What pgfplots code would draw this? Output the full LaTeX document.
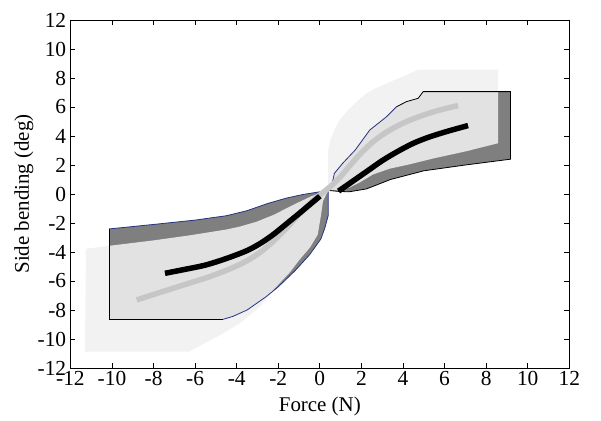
\documentclass[border=0pt]{standalone}
\usepackage{fontspec}
\setmainfont{Liberation Serif}
\usepackage{pgfplots}
\pgfplotsset{compat=1.18}
\definecolor{lightA}{RGB}{240,240,240}
\definecolor{darkB}{RGB}{127,127,127}
\definecolor{curveGrey}{RGB}{198,198,198}
\definecolor{navy}{RGB}{40,50,130}
\begin{document}
\begin{tikzpicture}
\useasboundingbox (-70.4bp,-53bp) rectangle (530.6bp,368bp);
\begin{axis}[
 scale only axis, width=498.9bp, height=348bp,
 xmin=-12,xmax=12,ymin=-12,ymax=12,
 xtick={-12,-10,...,12}, ytick={-12,-10,...,12},
 axis line style={line width=0.8bp},
 major tick length=5bp,
 tick style={line width=0.8bp, black},
 tick label style={font=\fontsize{21.5}{21.5}\selectfont},
 xticklabel style={inner sep=3bp},
 yticklabel style={inner sep=4bp},
 label style={font=\fontsize{21}{24}\selectfont},
 xlabel style={inner sep=2bp, yshift=-6bp},
 ylabel style={inner sep=2bp, yshift=-2bp},
 /pgf/number format/assume math mode=true,
 xlabel={Force (N)}, ylabel={Side bending (deg)},
 axis on top,
 no markers,
]
% dark region B (upper lobe)
\addplot[fill=darkB, draw=none] coordinates {(0.4,0.25) (0.56,0.5) (0.7,1.43) (1.1,2.12) (1.7,3.03) (2.4,4.41) (3.21,5.33) (3.69,6.02) (4.17,6.37) (4.73,6.6) (4.97,7.06) (9.17,7.06) (9.17,2.4) (7.0,2.0) (5.0,1.6) (3.4,1.0) (2.24,0.35) (1.4,0.15) (0.9,0.18)} -- cycle;
% dark region B (lower lobe)
\addplot[fill=darkB, draw=none] coordinates {(0.4,0.25) (0,0.15) (-0.8,-0.03) (-1.6,-0.28) (-2.5,-0.65) (-3.5,-1.15) (-4.5,-1.5) (-6,-1.8) (-8,-2.1) (-10.14,-2.41) (-10.14,-8.64) (-4.65,-8.64) (-4.2,-8.45) (-3.5,-8.0) (-2.6,-7.1) (-2.0,-6.4) (-1.2,-5.3) (-0.5,-4.2) (0.05,-3.1) (0.25,-2.3) (0.4,-1.5)} -- cycle;
% light region A (upper lobe)
\addplot[fill=lightA, fill opacity=0.883, draw=none] coordinates {(0.4,0.25) (0.4,3.0) (0.5,3.7) (0.72,4.5) (1.0,5.2) (1.36,5.79) (1.8,6.4) (2.24,6.94) (2.7,7.3) (3.21,7.63) (4.0,8.1) (4.73,8.57) (8.57,8.57) (8.57,3.5) (7.05,2.95) (5.45,2.45) (4.33,2.05) (3.37,1.75) (2.56,1.35) (1.92,0.8) (1.44,0.45) (0.9,0.25)} -- cycle;
% light region A (lower lobe)
\addplot[fill=lightA, fill opacity=0.883, draw=none] coordinates {(0.4,0.25) (-0.4,-0.15) (-0.96,-0.53) (-1.44,-0.87) (-2.24,-1.45) (-3.04,-1.91) (-3.85,-2.25) (-4.5,-2.45) (-6.25,-2.85) (-8,-3.2) (-10.17,-3.58) (-11.25,-3.78) (-11.3,-10.87) (-6.3,-10.87) (-4.65,-9.61) (-3.85,-8.92) (-2.88,-7.77) (-2.24,-6.62) (-1.44,-5.4) (-0.96,-4.5) (-0.48,-3.7) (-0.1,-2.8) (0.05,-1.5) (0.15,-0.5)} -- cycle;
% outlines of B
\addplot[navy, line width=0.8bp] coordinates {(0.4,0.25) (0.56,0.5) (0.7,1.43) (1.1,2.12) (1.7,3.03) (2.4,4.41) (3.21,5.33) (3.69,6.02)};
\addplot[black, line width=0.8bp] coordinates {(3.69,6.02) (4.17,6.37) (4.73,6.6) (4.97,7.06) (9.17,7.06) (9.17,2.4) (7.0,2.0) (5.0,1.6) (3.4,1.0) (2.24,0.35) (1.4,0.15) (0.9,0.18) (0.4,0.25)};
\addplot[navy, line width=0.8bp] coordinates {(0.4,0.25) (0,0.15) (-0.8,-0.03) (-1.6,-0.28) (-2.5,-0.65) (-3.5,-1.15) (-4.5,-1.5) (-6,-1.8) (-8,-2.1) (-10.14,-2.41)};
\addplot[black, line width=0.8bp] coordinates {(-10.14,-2.41) (-10.14,-8.64) (-4.65,-8.64)};
\addplot[navy, line width=0.8bp] coordinates {(-4.65,-8.64) (-4.2,-8.45) (-3.5,-8.0) (-2.6,-7.1) (-2.0,-6.4) (-1.2,-5.3) (-0.5,-4.2) (0.05,-3.1) (0.25,-2.3) (0.4,-1.5) (0.4,0.25)};
% mean curves
\addplot[curveGrey, line width=5.5bp, smooth] coordinates {(-8.81,-7.31) (-7.5,-6.7) (-6.5,-6.25) (-5.3,-5.7) (-4.3,-5.15) (-3.5,-4.6) (-2.8,-3.95) (-2.2,-3.2) (-1.6,-2.35) (-1.0,-1.4) (-0.4,-0.55) (0.1,0.05) (0.5,0.5) (1.0,1.2) (1.5,2.05) (2.0,2.85) (2.6,3.65) (3.3,4.35) (4.1,4.95) (5.0,5.45) (5.8,5.8) (6.65,6.1)};
\addplot[black, line width=5.5bp, smooth] coordinates {(-7.45,-5.47) (-6.5,-5.2) (-5.5,-4.9) (-4.5,-4.45) (-3.5,-3.9) (-2.8,-3.35) (-2.2,-2.75) (-1.6,-2.05) (-1.0,-1.35) (-0.5,-0.75) (0,-0.15)};
\addplot[black, line width=5.5bp, smooth] coordinates {(0.9,0.2) (1.3,0.6) (1.8,1.1) (2.4,1.7) (3.0,2.3) (3.7,2.9) (4.5,3.5) (5.3,3.95) (6.2,4.35) (7.13,4.72)};
\end{axis}
\end{tikzpicture}
\end{document}
